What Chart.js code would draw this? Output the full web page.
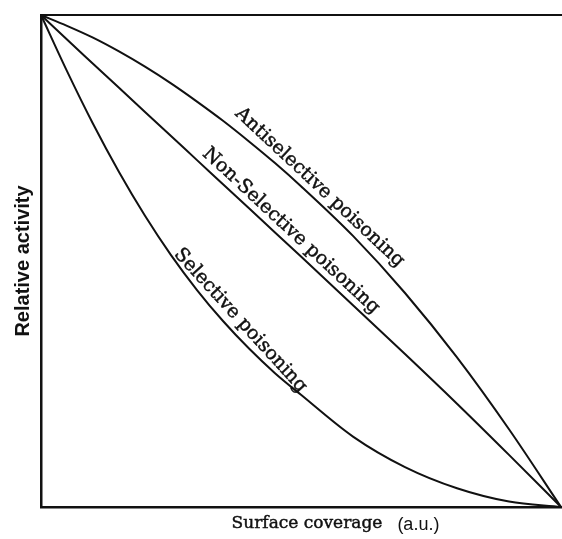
<!DOCTYPE html>
<html><head><meta charset="utf-8">
<script src="https://cdn.jsdelivr.net/npm/chart.js@4"></script>
<style>html,body{margin:0;padding:0;background:#fff;} canvas{display:block;}</style>
</head><body>
<canvas id="c" width="562" height="539"></canvas>
<script>
// ---- data ----
const coverage      = [0, 0.05, 0.1, 0.15, 0.2, 0.25, 0.3, 0.35, 0.4, 0.45, 0.5, 0.6, 0.7, 0.8, 0.9, 1.0];
const antiselective = [1, 0.978, 0.954, 0.926, 0.895, 0.861, 0.824, 0.785, 0.743, 0.699, 0.652, 0.551, 0.435, 0.304, 0.158, 0];
const nonSelective  = [1, 0.950, 0.901, 0.852, 0.803, 0.754, 0.705, 0.656, 0.607, 0.558, 0.509, 0.410, 0.311, 0.210, 0.106, 0];
const selective     = [1, 0.886, 0.779, 0.681, 0.592, 0.512, 0.441, 0.378, 0.322, 0.272, 0.228, 0.143, 0.081, 0.038, 0.011, 0];
const seriesNames   = ['Antiselective poisoning', 'Non-Selective poisoning', 'Selective poisoning'];
const xAxisTitle    = 'Surface coverage';
const xAxisUnit     = '(a.u.)';
const yAxisTitle    = 'Relative activity';

const INK = '#111';
function pts(vals) { return coverage.map((x, i) => ({ x: x, y: vals[i] })); }
function interp(vals, x) {
  for (let i = 0; i < coverage.length - 1; i++) {
    if (x >= coverage[i] && x <= coverage[i + 1]) {
      const t = (x - coverage[i]) / (coverage[i + 1] - coverage[i]);
      return vals[i] + t * (vals[i + 1] - vals[i]);
    }
  }
  return vals[vals.length - 1];
}

const curveLabels = {
  id: 'curveLabels',
  afterDatasetsDraw(chart) {
    const ctx = chart.ctx, xs = chart.scales.x, ys = chart.scales.y;
    const specs = [
      { vals: antiselective, text: seriesNames[0], at: 0.52,  off: 12 },
      { vals: nonSelective,  text: seriesNames[1], at: 0.465, off: 12 },
      { vals: selective,     text: seriesNames[2], at: 0.365, off: 13 }
    ];
    ctx.save();
    ctx.fillStyle = INK;
    ctx.strokeStyle = INK;
    ctx.lineWidth = 0.45;
    ctx.font = '19px "DejaVu Serif"';
    ctx.textAlign = 'center';
    ctx.textBaseline = 'middle';
    for (const s of specs) {
      const a0 = s.at - 0.1, a1 = s.at + 0.1;
      const x0 = xs.getPixelForValue(a0), y0 = ys.getPixelForValue(interp(s.vals, a0));
      const x1 = xs.getPixelForValue(a1), y1 = ys.getPixelForValue(interp(s.vals, a1));
      const ang = Math.atan2(y1 - y0, x1 - x0);
      const cx = xs.getPixelForValue(s.at), cy = ys.getPixelForValue(interp(s.vals, s.at));
      const px = cx + Math.sin(ang) * s.off, py = cy - Math.cos(ang) * s.off;
      ctx.save();
      ctx.translate(px, py);
      ctx.rotate(ang);
      ctx.fillText(s.text, 0, 0);
      ctx.strokeText(s.text, 0, 0);
      ctx.restore();
    }
    // x axis title
    const area = chart.chartArea;
    ctx.font = '17px "DejaVu Serif"';
    const tw = ctx.measureText(xAxisTitle).width;
    const tcx = (area.left + area.right) / 2 + 6;
    const ty = area.bottom + 17;
    ctx.textAlign = 'center';
    ctx.fillText(xAxisTitle, tcx, ty);
    ctx.strokeText(xAxisTitle, tcx, ty);
    ctx.font = '18px "Liberation Sans"';
    ctx.textAlign = 'left';
    ctx.fillText(xAxisUnit, tcx + tw / 2 + 15, ty + 1);
    ctx.restore();
  }
};

const lineStyle = { borderColor: INK, borderWidth: 2, pointRadius: 0, fill: false,
                    cubicInterpolationMode: 'monotone', clip: false };

new Chart(document.getElementById('c'), {
  type: 'line',
  data: {
    datasets: [
      Object.assign({ label: seriesNames[0], data: pts(antiselective) }, lineStyle),
      Object.assign({ label: seriesNames[1], data: pts(nonSelective) }, lineStyle),
      Object.assign({ label: seriesNames[2], data: pts(selective) }, lineStyle)
    ]
  },
  options: {
    responsive: false,
    animation: false,
    devicePixelRatio: 1,
    layout: { padding: { left: 0, right: 1, top: 0, bottom: 0 } },
    plugins: { legend: { display: false }, tooltip: { enabled: false } },
    scales: {
      x: {
        type: 'linear', position: 'bottom', min: 0, max: 1,
        ticks: { display: false }, grid: { display: false },
        border: { display: true, color: INK, width: 2.5 },
        title: { display: false },
        afterFit: s => { s.height = 32; }
      },
      x2: {
        type: 'linear', position: 'top', min: 0, max: 1,
        ticks: { display: false }, grid: { display: false },
        border: { display: true, color: INK, width: 2 },
        afterFit: s => { s.height = 15; }
      },
      y: {
        type: 'linear', position: 'left', min: 0, max: 1,
        ticks: { display: false }, grid: { display: false },
        border: { display: true, color: INK, width: 2.5 },
        title: { display: true, text: yAxisTitle, color: INK,
                 font: { family: '"Liberation Sans"', size: 20, weight: 'bold', lineHeight: 1 },
                 padding: { top: 13, bottom: 0 } },
        afterFit: s => { s.width = 41; }
      }
    }
  },
  plugins: [curveLabels]
});
</script>
</body></html>
